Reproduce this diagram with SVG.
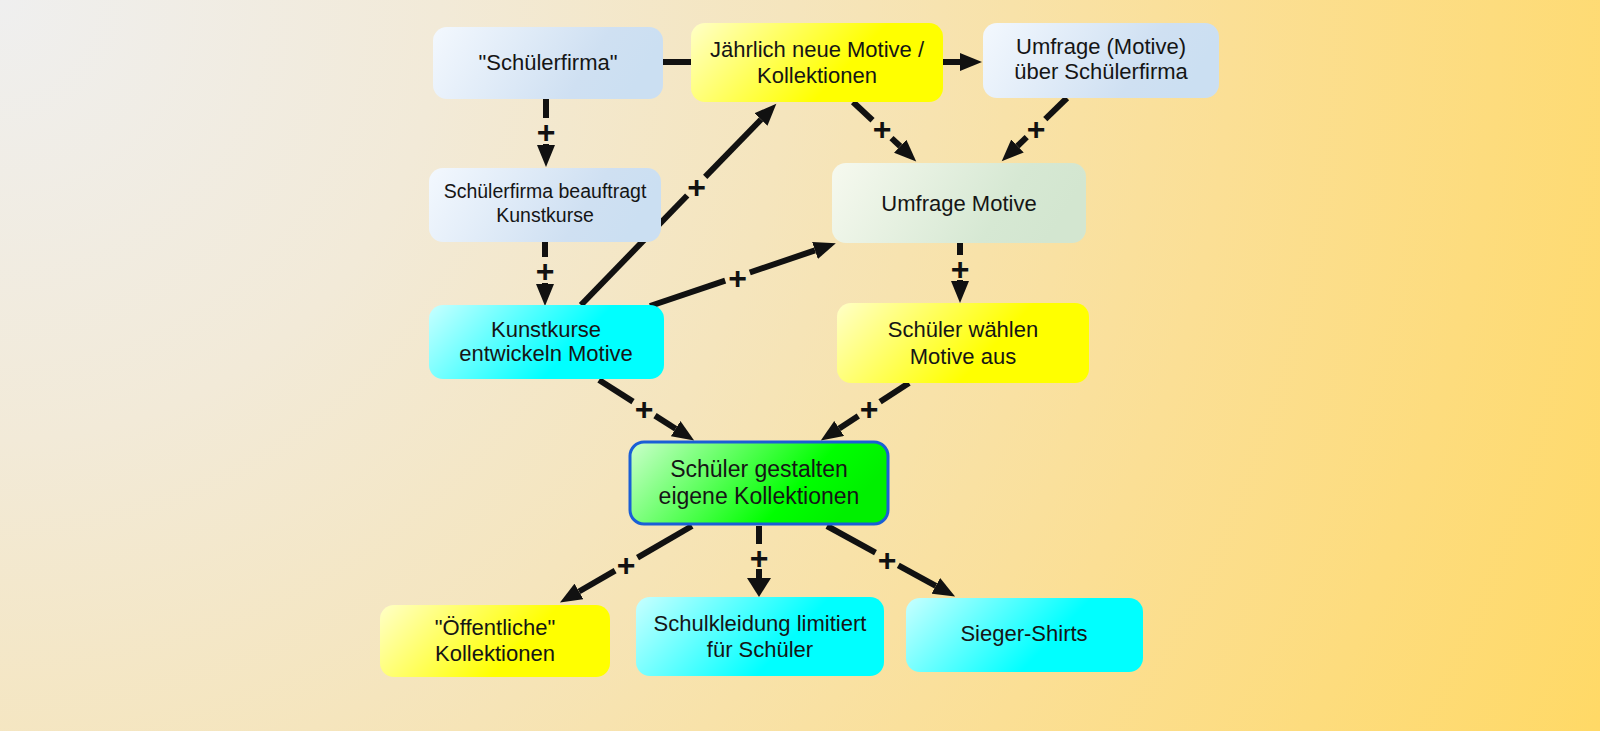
<svg xmlns="http://www.w3.org/2000/svg" width="1600" height="731" viewBox="0 0 1600 731">
<defs>
<radialGradient id="bg" gradientUnits="userSpaceOnUse" cx="0" cy="0" r="1760">
<stop offset="0" stop-color="#efefef"/>
<stop offset="0.25" stop-color="#f2ead8"/>
<stop offset="0.45" stop-color="#f5e5bd"/>
<stop offset="0.7" stop-color="#fbdf95"/>
<stop offset="1" stop-color="#ffd966"/>
</radialGradient>
<linearGradient id="gBlue" x1="0" y1="0" x2="1" y2="0.2">
<stop offset="0" stop-color="#f3f8fe"/>
<stop offset="0.75" stop-color="#cfe0f2"/>
<stop offset="1" stop-color="#cbdff2"/>
</linearGradient>
<linearGradient id="gYellow" x1="0" y1="0" x2="1" y2="0.3">
<stop offset="0" stop-color="#ffffc8"/>
<stop offset="0.72" stop-color="#ffff00"/>
<stop offset="1" stop-color="#ffff00"/>
</linearGradient>
<linearGradient id="gCyan" x1="0" y1="0" x2="1" y2="0.3">
<stop offset="0" stop-color="#c8ffff"/>
<stop offset="0.72" stop-color="#00ffff"/>
<stop offset="1" stop-color="#00ffff"/>
</linearGradient>
<linearGradient id="gGreen" x1="0" y1="0" x2="1" y2="0.3">
<stop offset="0" stop-color="#ccffcc"/>
<stop offset="0.75" stop-color="#00ff00"/>
<stop offset="1" stop-color="#00f000"/>
</linearGradient>
<linearGradient id="gMint" x1="0" y1="0" x2="1" y2="0.2">
<stop offset="0" stop-color="#f6f9ef"/>
<stop offset="0.75" stop-color="#d6e8d3"/>
<stop offset="1" stop-color="#d3e6d0"/>
</linearGradient>
<marker id="arr" markerUnits="userSpaceOnUse" markerWidth="23" markerHeight="18" refX="0" refY="9" orient="auto">
<path d="M0,0 L22,9 L0,18 z" fill="#111"/>
</marker>
<marker id="arrBig" markerUnits="userSpaceOnUse" markerWidth="20" markerHeight="24" refX="0" refY="12" orient="auto">
<path d="M0,0 L19,12 L0,24 z" fill="#111"/>
</marker>
</defs>
<style>
.box{rx:14px;ry:14px;}
.t{font-family:"Liberation Sans",Arial,sans-serif;font-size:22px;fill:#151515;text-anchor:middle;}
.ts{font-size:19.5px;}
.tb{font-size:23px;}
.ln{stroke:#111;stroke-width:6;fill:none;}
.ah{marker-end:url(#arr);}
.plus{font-family:"Liberation Sans",Arial,sans-serif;font-weight:bold;font-size:32px;fill:#111;text-anchor:middle;}
</style>
<rect x="0" y="0" width="1600" height="731" fill="url(#bg)"/>

<g id="connectors">
<line class="ln" x1="663" y1="62" x2="691" y2="62" stroke-width="7"/>
<line class="ln ah" x1="943" y1="62" x2="960" y2="62" stroke-width="7"/>

<line class="ln" x1="546" y1="99" x2="546" y2="118"/>
<line class="ln ah" x1="546" y1="144" x2="546" y2="145"/>
<text class="plus" x="546" y="143">+</text>

<line class="ln" x1="545" y1="242" x2="545" y2="257"/>
<line class="ln ah" x1="545" y1="283" x2="545" y2="284"/>
<text class="plus" x="545" y="282">+</text>

<line class="ln" x1="581" y1="305" x2="687.2" y2="195.5"/>
<line class="ln ah" x1="705.2" y1="176.9" x2="761" y2="119.5"/>
<text class="plus" x="696.5" y="198">+</text>

<line class="ln" x1="650" y1="306" x2="725.2" y2="280.7"/>
<line class="ln ah" x1="749.8" y1="272.5" x2="815" y2="250.4"/>
<text class="plus" x="737.5" y="288.6">+</text>

<line class="ln" x1="853" y1="102" x2="872.5" y2="120.3"/>
<line class="ln ah" x1="891.5" y1="138.1" x2="900.2" y2="146.3"/>
<text class="plus" x="882" y="140">+</text>

<line class="ln" x1="1067" y1="98" x2="1045.3" y2="119.1"/>
<line class="ln ah" x1="1026.7" y1="137.1" x2="1017.5" y2="146"/>
<text class="plus" x="1036" y="139.5">+</text>

<line class="ln" x1="960" y1="243" x2="960" y2="255"/>
<line class="ln ah" x1="960" y1="280" x2="960" y2="281"/>
<text class="plus" x="960" y="280">+</text>

<line class="ln" x1="599" y1="380" x2="633" y2="401.6"/>
<line class="ln ah" x1="655" y1="415.6" x2="675.6" y2="428.7"/>
<text class="plus" x="644" y="420">+</text>

<line class="ln" x1="909" y1="383" x2="880.1" y2="401.8"/>
<line class="ln ah" x1="858.3" y1="416" x2="839.2" y2="428.5"/>
<text class="plus" x="869" y="420">+</text>

<line class="ln" x1="692" y1="526" x2="637.5" y2="557.6"/>
<line class="ln ah" x1="615.1" y1="570.6" x2="579" y2="591.5"/>
<text class="plus" x="626" y="575.5">+</text>

<line class="ln" x1="759" y1="526" x2="759" y2="544" stroke-width="10"/>
<line class="ln" x1="759" y1="569" x2="759" y2="578" stroke-width="10" marker-end="url(#arrBig)"/>
<text class="plus" x="759" y="569">+</text>

<line class="ln" x1="827" y1="526" x2="875.5" y2="552.7"/>
<line class="ln ah" x1="898.3" y1="565.3" x2="935.8" y2="585.9"/>
<text class="plus" x="887" y="570.5">+</text>
</g>

<g id="n1"><rect class="box" x="433" y="27" width="230" height="72" fill="url(#gBlue)"/>
<text class="t" x="548" y="70">"Schülerfirma"</text></g>

<g id="n2"><rect class="box" x="691" y="23" width="252" height="79" fill="url(#gYellow)"/>
<text class="t" x="817" y="57">Jährlich neue Motive /</text>
<text class="t" x="817" y="83">Kollektionen</text></g>

<g id="n3"><rect class="box" x="983" y="23" width="236" height="75" fill="url(#gBlue)"/>
<text class="t" x="1101" y="54">Umfrage (Motive)</text>
<text class="t" x="1101" y="79">über Schülerfirma</text></g>

<g id="n4"><rect class="box" x="429" y="168" width="232" height="74" fill="url(#gBlue)"/>
<text class="t ts" x="545" y="198">Schülerfirma beauftragt</text>
<text class="t ts" x="545" y="222">Kunstkurse</text></g>

<g id="n5"><rect class="box" x="832" y="163" width="254" height="80" fill="url(#gMint)"/>
<text class="t" x="959" y="211">Umfrage Motive</text></g>

<g id="n6"><rect class="box" x="429" y="305" width="235" height="74" fill="url(#gCyan)"/>
<text class="t" x="546" y="337">Kunstkurse</text>
<text class="t" x="546" y="361">entwickeln Motive</text></g>

<g id="n7"><rect class="box" x="837" y="303" width="252" height="80" fill="url(#gYellow)"/>
<text class="t" x="963" y="337">Schüler wählen</text>
<text class="t" x="963" y="364">Motive aus</text></g>

<g id="n8"><rect class="box" x="630" y="442" width="258" height="82" fill="url(#gGreen)" stroke="#1a5fd6" stroke-width="3"/>
<text class="t tb" x="759" y="477">Schüler gestalten</text>
<text class="t tb" x="759" y="504">eigene Kollektionen</text></g>

<g id="n9"><rect class="box" x="380" y="605" width="230" height="72" fill="url(#gYellow)"/>
<text class="t" x="495" y="635">"Öffentliche"</text>
<text class="t" x="495" y="661">Kollektionen</text></g>

<g id="n10"><rect class="box" x="636" y="597" width="248" height="79" fill="url(#gCyan)"/>
<text class="t" x="760" y="631">Schulkleidung limitiert</text>
<text class="t" x="760" y="657">für Schüler</text></g>

<g id="n11"><rect class="box" x="906" y="598" width="237" height="74" fill="url(#gCyan)"/>
<text class="t" x="1024" y="641">Sieger-Shirts</text></g>
</svg>
